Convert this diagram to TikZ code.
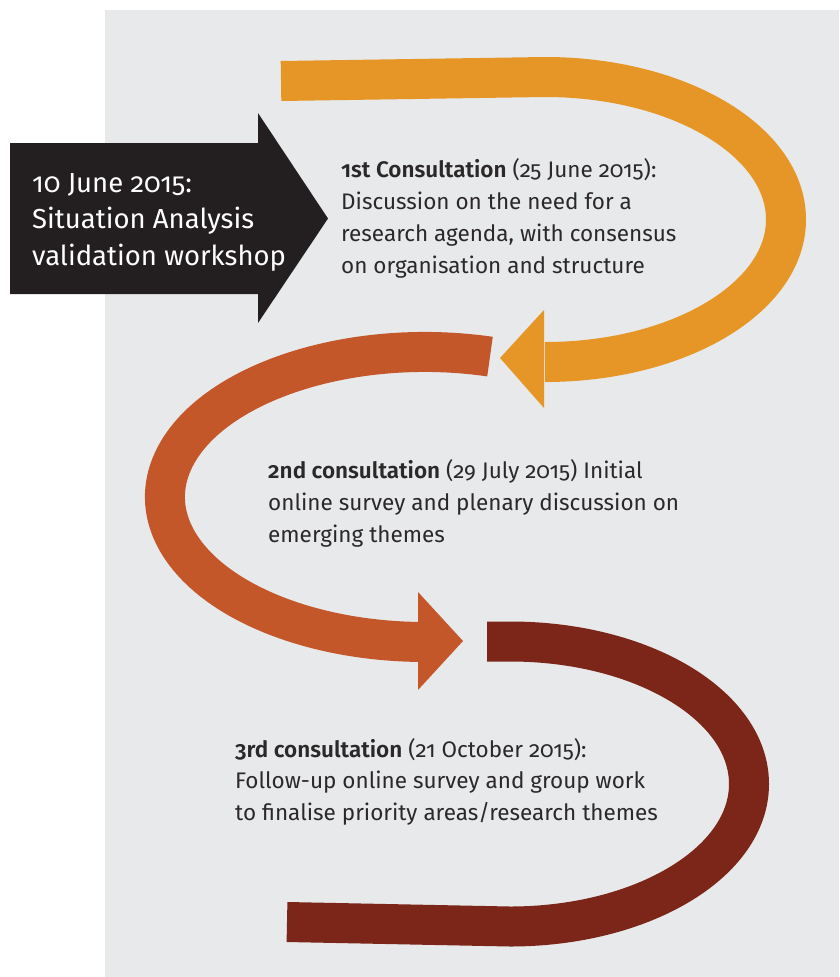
\documentclass[tikz,border=0pt]{standalone}
\usepackage{fontspec}
\setmainfont{Fira Sans}[Numbers=OldStyle, BoldFont={Fira Sans SemiBold}]
\usepackage{tikz}
\usetikzlibrary{calc}

\definecolor{bg gray}{HTML}{E8E9EB}
\definecolor{ink}{HTML}{2B2829}
\definecolor{box black}{HTML}{231F20}
\definecolor{loop orange}{HTML}{E69626}
\definecolor{loop rust}{HTML}{C4572A}
\definecolor{loop maroon}{HTML}{7B2618}

\begin{document}
\begin{tikzpicture}[x=1pt, y=-1pt]
\tikzset{
	band/.style = {line width = 40pt},
	step text/.style = {anchor = base west, align = left, inner sep = 0, text = ink, font = \fontsize{22.5}{32}\selectfont},
	start text/.style = {step text, text = white, font = \fontsize{27.5}{36.5}\selectfont},
}
\useasboundingbox (0,0) rectangle (839,977);
\fill[bg gray] (105,10) rectangle (839,977);

% loops
\draw[band, loop orange] (281,81) -- (545,77) arc[start angle = -90, end angle = 90, x radius = 241, y radius = 142.5];
\fill[loop orange] (544,310) -- (500,358) -- (544,408) -- cycle;
\draw[band, loop rust] (490,356.6) arc[start angle = -75.5, end angle = -270, x radius = 260, y radius = 145];
\fill[loop rust] (418,592) -- (463,641) -- (418,690) -- cycle;
\draw[band, loop maroon] (487,641.5) -- (510,641.5) arc[start angle = -90, end angle = 90, x radius = 239, y radius = 142.5] -- (287,922);

% start arrow
\fill[box black] (10,143) -- (258,143) -- (258,113) -- (328,218.5) -- (258,323) -- (258,294) -- (10,294) -- cycle;

% texts, placed at the baseline of their last line
\node[start text] (start) at (32,265) {10 June 2015:\\Situation Analysis\\validation workshop};
\node[step text] (first) at (341,273) {\textbf{1st Consultation} (25 June 2015):\\Discussion on the need for a\\research agenda, with consensus\\on organisation and structure};
\node[step text] (second) at (268,542) {\textbf{2nd consultation} (29 July 2015) Initial\\online survey and plenary discussion on\\emerging themes};
\node[step text, font = \fontsize{22.5}{31.5}\selectfont] (third) at (235,820) {\textbf{3rd consultation} (21 October 2015):\\Follow-up online survey and group work\\to finalise priority areas/research themes};

\end{tikzpicture}
\end{document}
